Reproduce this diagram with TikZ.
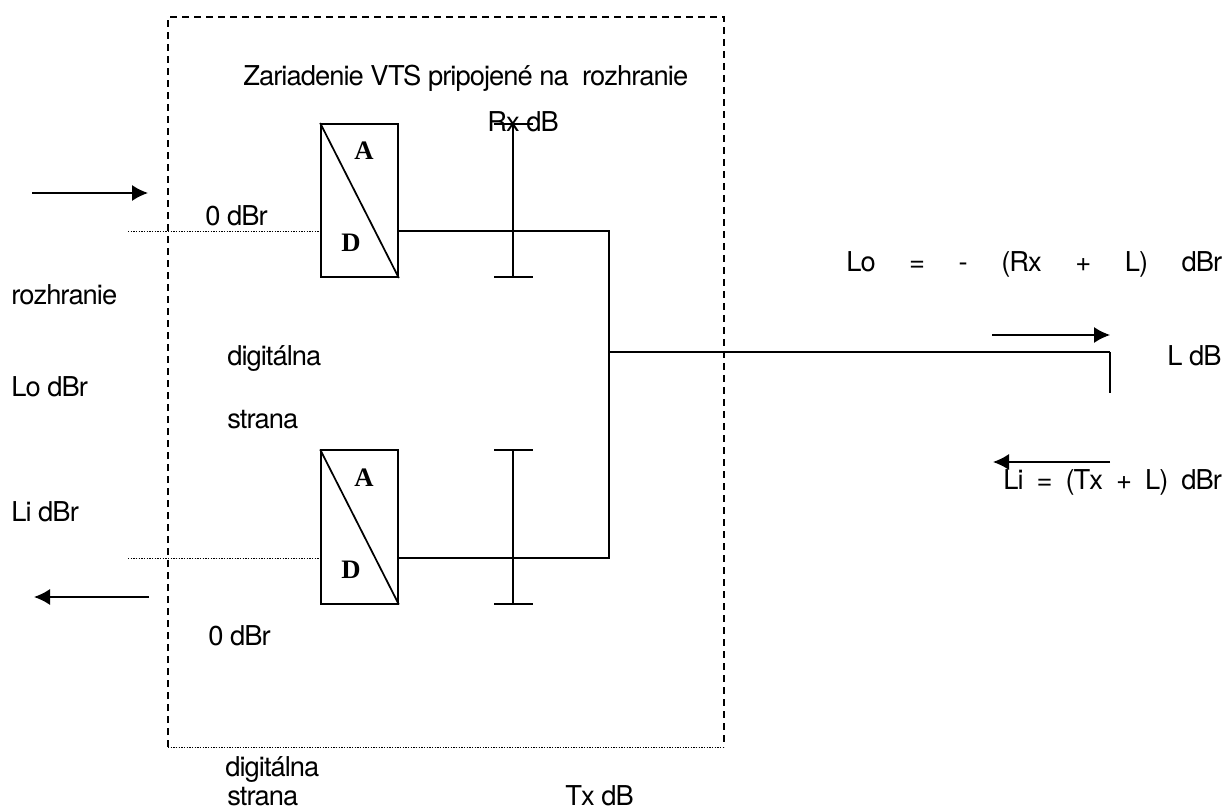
\documentclass[tikz,border=0pt]{standalone}
\usepackage{fontspec}
\setmainfont[LetterSpace=-3.5]{TeX Gyre Heros}
\newfontfamily\adfont[Scale=1]{Liberation Serif}
\usetikzlibrary{arrows.meta}
\tikzset{
  lbl/.style={anchor=base west,inner sep=0pt,font=\fontsize{20.5}{24}\selectfont},
  adletter/.style={anchor=base,inner sep=0pt,font=\fontsize{20}{22}\adfont\bfseries},
  conv/.style={draw,line width=1.3pt,minimum width=57.75pt,minimum height=115pt,inner sep=0pt},
  wire/.style={line width=1.3pt},
  mainwire/.style={line width=2.2pt},
  sig/.style={line width=1.1pt,-{Latex[length=12pt,width=12pt]}},
  dotline/.style={line width=0.7pt,dash pattern=on 1pt off 1pt},
  dashline/.style={line width=1pt,dash pattern=on 5.5pt off 3.5pt}
}
\begin{document}
\begin{tikzpicture}[x=0.75pt,y=-0.75pt]
      \useasboundingbox (0,0) rectangle (1225,809);
      % outer frame
      \coordinate (tl) at (168,17);
      \coordinate (tr) at (724,17);
      \coordinate (br) at (724,747);
      \coordinate (bl) at (168,747);
      \draw[dashline] (bl) -- (tl) -- (tr) -- (br);
      \draw[dotline] (bl) -- (br);
      % converters
      \node[conv] (conv1) at (359.5,200.5) {};
      \node[conv] (conv2) at (359.5,527) {};
      \draw[wire] (conv1.north west) -- (conv1.south east);
      \draw[wire] (conv2.north west) -- (conv2.south east);
      \node[adletter] (a1) at (364,160) {A};
      \node[adletter] (d1) at (351,252) {D};
      \node[adletter] (a2) at (364,486) {A};
      \node[adletter] (d2) at (351,578) {D};
      % lines
      \coordinate (in1) at (128,231);
      \coordinate (in1e) at (321,231);
      \coordinate (out1) at (398,231);
      \coordinate (in2) at (128,558);
      \coordinate (in2e) at (321,558);
      \coordinate (out2) at (398,558);
      \coordinate (c1) at (609,231);
      \coordinate (c2) at (609,558);
      \coordinate (jn) at (609,352);
      \coordinate (endp) at (1110,352);
      \coordinate (endq) at (1110,393);
      \begin{scope}[dotline]
        \draw (in1) -- (in1e);
        \draw (in2) -- (in2e);
      \end{scope}
      \draw[wire] (out1) -- (c1) -- (c2) -- (out2);
      \draw[mainwire] (jn) -- (endp);
      \draw[wire] (endp) -- (endq);
      % level bars
      \coordinate (b1t) at (513,124);
      \coordinate (b1b) at (513,277);
      \coordinate (b2t) at (513,450);
      \coordinate (b2b) at (513,604);
      \coordinate (b1tl) at (494,124);
      \coordinate (b1tr) at (533,124);
      \coordinate (b1bl) at (494,277);
      \coordinate (b1br) at (533,277);
      \coordinate (b2tl) at (494,450);
      \coordinate (b2tr) at (533,450);
      \coordinate (b2bl) at (494,604);
      \coordinate (b2br) at (533,604);
      \draw[wire] (b1t) -- (b1b);
      \draw[wire] (b2t) -- (b2b);
      \draw[wire] (b1tl) -- (b1tr);
      \draw[wire] (b1bl) -- (b1br);
      \draw[wire] (b2tl) -- (b2tr);
      \draw[wire] (b2bl) -- (b2br);
      % arrows
      \coordinate (s1) at (32,193);
      \coordinate (s1e) at (148,193);
      \coordinate (s2) at (149,597);
      \coordinate (s2e) at (34,597);
      \coordinate (s3) at (992,335);
      \coordinate (s3e) at (1110,335);
      \coordinate (s4) at (1110,462);
      \coordinate (s4e) at (993,462);
      \draw[sig] (s1) -- (s1e);
      \draw[sig] (s2) -- (s2e);
      \draw[sig] (s3) -- (s3e);
      \draw[sig] (s4) -- (s4e);
      % texts
      \node[lbl] (title) at (243,86) {Zariadenie VTS pripojené na\ \ rozhranie};
      \node[lbl] (rx) at (487,132) {Rx dB};
      \node[lbl] (zero1) at (205,226) {0 dBr};
      \node[lbl] (zero2) at (208,645) {0 dBr};
      \node[lbl] (rozh) at (11,305) {rozhranie};
      \node[lbl] (lo) at (11,397) {Lo dBr};
      \node[lbl] (li) at (11,521) {Li dBr};
      \node[lbl] (dig1) at (227,366) {digitálna};
      \node[lbl] (str1) at (227,428) {strana};
      \node[lbl] (dig2) at (225,776) {digitálna};
      \node[lbl] (str2) at (227,805) {strana};
      \node[lbl] (tx) at (565,805) {Tx dB};
      \node[lbl] (fo) at (846,272) {\makebox[282pt][s]{Lo\hfill=\hfill-\hfill(Rx\hfill+\hfill L)\hfill dBr}};
      \node[lbl] (ldb) at (1167,366) {L dB};
      \node[lbl] (fi) at (1003,489) {\makebox[164pt][s]{Li\hfill=\hfill(Tx\hfill+\hfill L)\hfill dBr}};
    \end{tikzpicture}
\end{document}
